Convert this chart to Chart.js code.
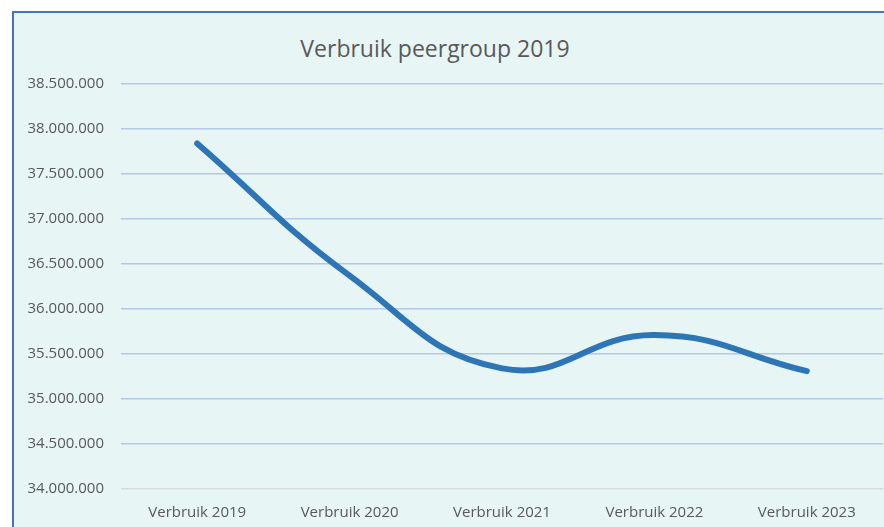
<!DOCTYPE html>
<html>
<head>
<meta charset="utf-8">
<script src="https://cdn.jsdelivr.net/npm/chart.js@4"></script>
<style>
    body { margin: 0; background: #ffffff; width: 884px; height: 527px; overflow: hidden; position: relative; }
    #frame { position: absolute; left: 12px; top: 11px; width: 870px; height: 514px;
             background: #e7f5f5; border-left: 2px solid #4472c4; border-top: 2px solid #4472c4; }
    #title { position: absolute; left: 235px; top: 34px; width: 400px; line-height: 28px; text-align: center;
             font-family: 'Open Sans', sans-serif; font-size: 23px; color: #595959; }
    #chart-wrap { position: absolute; left: 0; top: 0; width: 884px; height: 527px; }
</style>
</head>
<body>
<div id="frame"></div>
<div id="title">Verbruik peergroup 2019</div>
<div id="chart-wrap"><canvas id="verbruik-chart" width="884" height="527"></canvas></div>
<script>
const categories = ['Verbruik 2019', 'Verbruik 2020', 'Verbruik 2021', 'Verbruik 2022', 'Verbruik 2023'];
const verbruik = [37840000, 36370000, 35340000, 35710000, 35310000];
const yMin = 34000000;
const yMax = 38500000;
const yStep = 500000;

function formatNumber(v) {
    return String(Math.round(v)).replace(/\B(?=(\d{3})+(?!\d))/g, '.');
}

document.addEventListener('DOMContentLoaded', function () {
    const ctx = document.getElementById('verbruik-chart').getContext('2d');

    new Chart(ctx, {
        type: 'line',
        data: {
            labels: categories,
            datasets: [{
                label: 'Verbruik',
                data: verbruik,
                borderColor: '#2e75b6',
                borderWidth: 6,
                borderCapStyle: 'round',
                borderJoinStyle: 'round',
                pointRadius: 0,
                tension: 0.45,
                fill: false
            }]
        },
        options: {
            responsive: false,
            animation: false,
            layout: {
                padding: { left: 25, right: 1, top: 84, bottom: 0 }
            },
            scales: {
                x: {
                    offset: true,
                    afterFit: function (scale) { scale.height = 38; },
                    grid: { display: false, drawTicks: false },
                    border: { display: false },
                    ticks: {
                        padding: 15,
                        color: '#595959',
                        font: { family: 'Open Sans', size: 15 },
                        maxRotation: 0
                    }
                },
                y: {
                    min: yMin,
                    max: yMax,
                    afterFit: function (scale) { scale.width = 96; },
                    grid: {
                        drawTicks: false,
                        lineWidth: 1.5,
                        color: function (c) {
                            return c.tick && c.tick.value === yMin ? '#d9d9d9' : '#b4c7e7';
                        }
                    },
                    border: { display: false },
                    ticks: {
                        stepSize: yStep,
                        padding: 17,
                        color: '#595959',
                        font: { family: 'Open Sans', size: 15 },
                        callback: function (value) { return formatNumber(value); }
                    }
                }
            },
            plugins: {
                legend: { display: false },
                tooltip: { enabled: false }
            }
        }
    });
});
</script>
</body>
</html>
